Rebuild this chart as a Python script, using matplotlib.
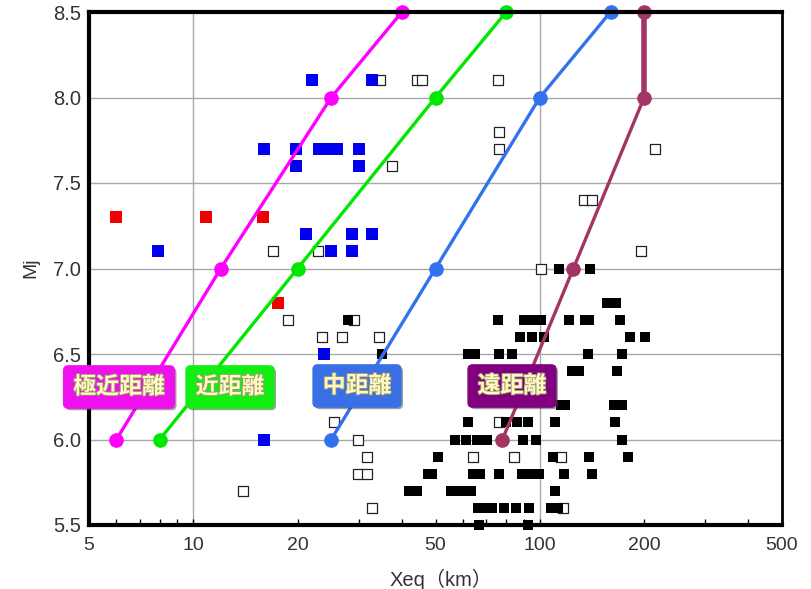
import matplotlib
matplotlib.use("Agg")
import matplotlib.pyplot as plt
import matplotlib.patheffects as pe
from matplotlib.ticker import FixedLocator, NullFormatter

plt.rcParams['font.family'] = ['Liberation Sans', 'Noto Sans CJK JP', 'DejaVu Sans']

# ---- distance-band lines (Xeq in km, Mj) ----
mag_levels = [6.0, 7.0, 8.0, 8.5]
x_very_near = [6, 12, 25, 40]
x_near = [8, 20, 50, 80]
x_mid = [25, 50, 100, 160]
x_far = [78, 125, 200, 200]

# ---- red squares ----
red_x = [6.0, 10.9, 15.9, 17.5]
red_y = [7.3, 7.3, 7.3, 6.8]

# ---- blue squares ----
blue_x = [22.0, 32.7, 16.0, 19.8, 23.0, 24.4, 25.9, 30.1, 19.8, 30.1,
          21.1, 28.8, 32.8, 7.9, 24.9, 28.8, 23.9, 16.0]
blue_y = [8.1, 8.1, 7.7, 7.7, 7.7, 7.7, 7.7, 7.7, 7.6, 7.6,
          7.2, 7.2, 7.2, 7.1, 7.1, 7.1, 6.5, 6.0]

# ---- black filled squares ----
black_x = [113.8, 139.6,
           156.3, 165.6,
           27.9, 75.6, 90.2, 95.5, 101.1, 121.2, 134.6, 138.7, 170.4,
           87.4, 94.8, 102.8, 181.5, 201.6,
           35.0, 61.9, 64.9, 76.5, 83.4, 138.0, 172.4,
           123.9, 129.8, 167.4,
           115.1, 118.2, 163.2, 172.1,
           61.9, 80.0, 85.9, 92.2, 110.6, 164.9,
           57.1, 61.2, 65.8, 70.6, 89.4, 97.8, 172.4,
           50.9, 108.9, 138.7, 179.7,
           47.6, 48.9, 64.2, 67.1, 76.3, 89.1, 94.2, 99.5, 117.2, 141.0,
           41.8, 44.1, 55.4, 59.3, 63.5, 110.6,
           66.1, 69.5, 72.8, 78.9, 85.3, 93.1, 107.7, 112.8,
           66.9, 92.3]
black_y = [7.0, 7.0,
           6.8, 6.8,
           6.7, 6.7, 6.7, 6.7, 6.7, 6.7, 6.7, 6.7, 6.7,
           6.6, 6.6, 6.6, 6.6, 6.6,
           6.5, 6.5, 6.5, 6.5, 6.5, 6.5, 6.5,
           6.4, 6.4, 6.4,
           6.2, 6.2, 6.2, 6.2,
           6.1, 6.1, 6.1, 6.1, 6.1, 6.1,
           6.0, 6.0, 6.0, 6.0, 6.0, 6.0, 6.0,
           5.9, 5.9, 5.9, 5.9,
           5.8, 5.8, 5.8, 5.8, 5.8, 5.8, 5.8, 5.8, 5.8, 5.8,
           5.7, 5.7, 5.7, 5.7, 5.7, 5.7,
           5.6, 5.6, 5.6, 5.6, 5.6, 5.6, 5.6, 5.6,
           5.5, 5.5]

# ---- open squares ----
open_x = [34.6, 44.1, 45.6, 75.9, 76.5, 76.5, 215, 37.4, 134.4, 141.7,
          17.0, 22.9, 196, 101, 18.8, 29.0, 23.5, 26.9, 34.4,
          25.5, 76.5, 29.9, 31.7, 64.3, 84.2, 114.9, 29.9, 31.7, 13.9,
          32.7, 116.9]
open_y = [8.1, 8.1, 8.1, 8.1, 7.8, 7.7, 7.7, 7.6, 7.4, 7.4,
          7.1, 7.1, 7.1, 7.0, 6.7, 6.7, 6.6, 6.6, 6.6,
          6.1, 6.1, 6.0, 5.9, 5.9, 5.9, 5.9, 5.8, 5.8, 5.7,
          5.6, 5.6]

labels = ['極近距離', '近距離', '中距離', '遠距離']
x_ticks = [5, 10, 20, 50, 100, 200, 500]
y_ticks = [5.5, 6.0, 6.5, 7.0, 7.5, 8.0, 8.5]

fig = plt.figure(figsize=(8.11, 5.89), dpi=100)
ax = fig.add_axes([89 / 811, 1 - 525 / 589, 693 / 811, 513 / 589])
ax.set_xscale('log')
ax.set_xlim(5, 500)
ax.set_ylim(5.5, 8.5)

# grid
for yv in y_ticks[1:-1]:
    ax.axhline(yv, color='#a8a8a8', lw=1.0, zorder=1)
for xv in [10, 100]:
    ax.axvline(xv, color='#a8a8a8', lw=1.0, zorder=1)

ax.scatter(open_x, open_y, marker='s', s=6.5 ** 2, facecolor='white',
           edgecolor='#222222', linewidths=0.9, zorder=3, clip_on=False)
ax.scatter(black_x, black_y, marker='s', s=7.6 ** 2, color='black',
           linewidths=0, zorder=3, clip_on=False)
ax.scatter(blue_x, blue_y, marker='s', s=9 ** 2, color='#0000ee',
           linewidths=0, zorder=3)
ax.scatter(red_x, red_y, marker='s', s=9 ** 2, color='#ee0000',
           linewidths=0, zorder=3)

line_cols = ['#ff00ff', '#00e800', '#3372ee', '#a33565']
series = [x_very_near, x_near, x_mid, x_far]
for xs, c in zip(series, line_cols):
    ax.plot(xs, mag_levels, color=c, lw=2.4, marker='o', ms=9.5,
            zorder=4, clip_on=False)
# thicker vertical top segment of far line
ax.plot(x_far[2:], mag_levels[2:], color=line_cols[3], lw=4, zorder=4,
        clip_on=False)

# label boxes
box_cols = ['#ee11ee', '#11ee11', '#3a6fe6', '#800080']
box_centers = [(119, 387), (230, 387), (357, 386), (512, 386)]
for txt, bc, (cx, cy) in zip(labels, box_cols, box_centers):
    t = fig.text(cx / 811, 1 - cy / 589, txt, ha='center', va='center',
                 fontsize=16.5, color='#fff8c0', fontweight='bold',
                 family=['Noto Sans CJK JP'], zorder=10,
                 path_effects=[pe.withStroke(linewidth=1.2, foreground='#9a9a70')],
                 bbox=dict(boxstyle='round,pad=0.42,rounding_size=0.2',
                           facecolor=bc, edgecolor=bc, lw=1))
    t.get_bbox_patch().set_path_effects(
        [pe.SimplePatchShadow(offset=(1.5, -1.5), shadow_rgbFace='#404040', alpha=0.5),
         pe.Normal()])

# ticks
ax.xaxis.set_major_locator(FixedLocator(x_ticks))
ax.set_xticklabels([str(v) for v in x_ticks])
minor = [m * 10 ** e for e in (0, 1, 2) for m in range(2, 10)]
minor = [v for v in minor if 5 < v < 500 and v not in x_ticks]
ax.xaxis.set_minor_locator(FixedLocator(minor))
ax.xaxis.set_minor_formatter(NullFormatter())
ax.tick_params(axis='x', which='both', direction='in', length=4, width=1,
               color='black', labelsize=14, labelcolor='#333333', pad=9)
ax.set_yticks(y_ticks)
ax.set_yticklabels([f'{v:.1f}' for v in y_ticks])
ax.tick_params(axis='y', length=0, labelsize=14.5, labelcolor='#333333', pad=6)

for side, w in [('left', 3), ('bottom', 3), ('top', 3), ('right', 2)]:
    ax.spines[side].set_linewidth(w)
    ax.spines[side].set_color('black')
    ax.spines[side].set_zorder(5)

fig.text(31 / 811, 1 - 268 / 589, 'Mj', rotation=90, ha='center',
         va='center', fontsize=14, color='#333333')
fig.text(441 / 811, 1 - 579 / 589, 'Xeq（km）', ha='center', va='center',
         fontsize=14.5, color='#333333',
         family=['Liberation Sans', 'Noto Sans CJK JP'])

fig.savefig('out.png', dpi=100)
